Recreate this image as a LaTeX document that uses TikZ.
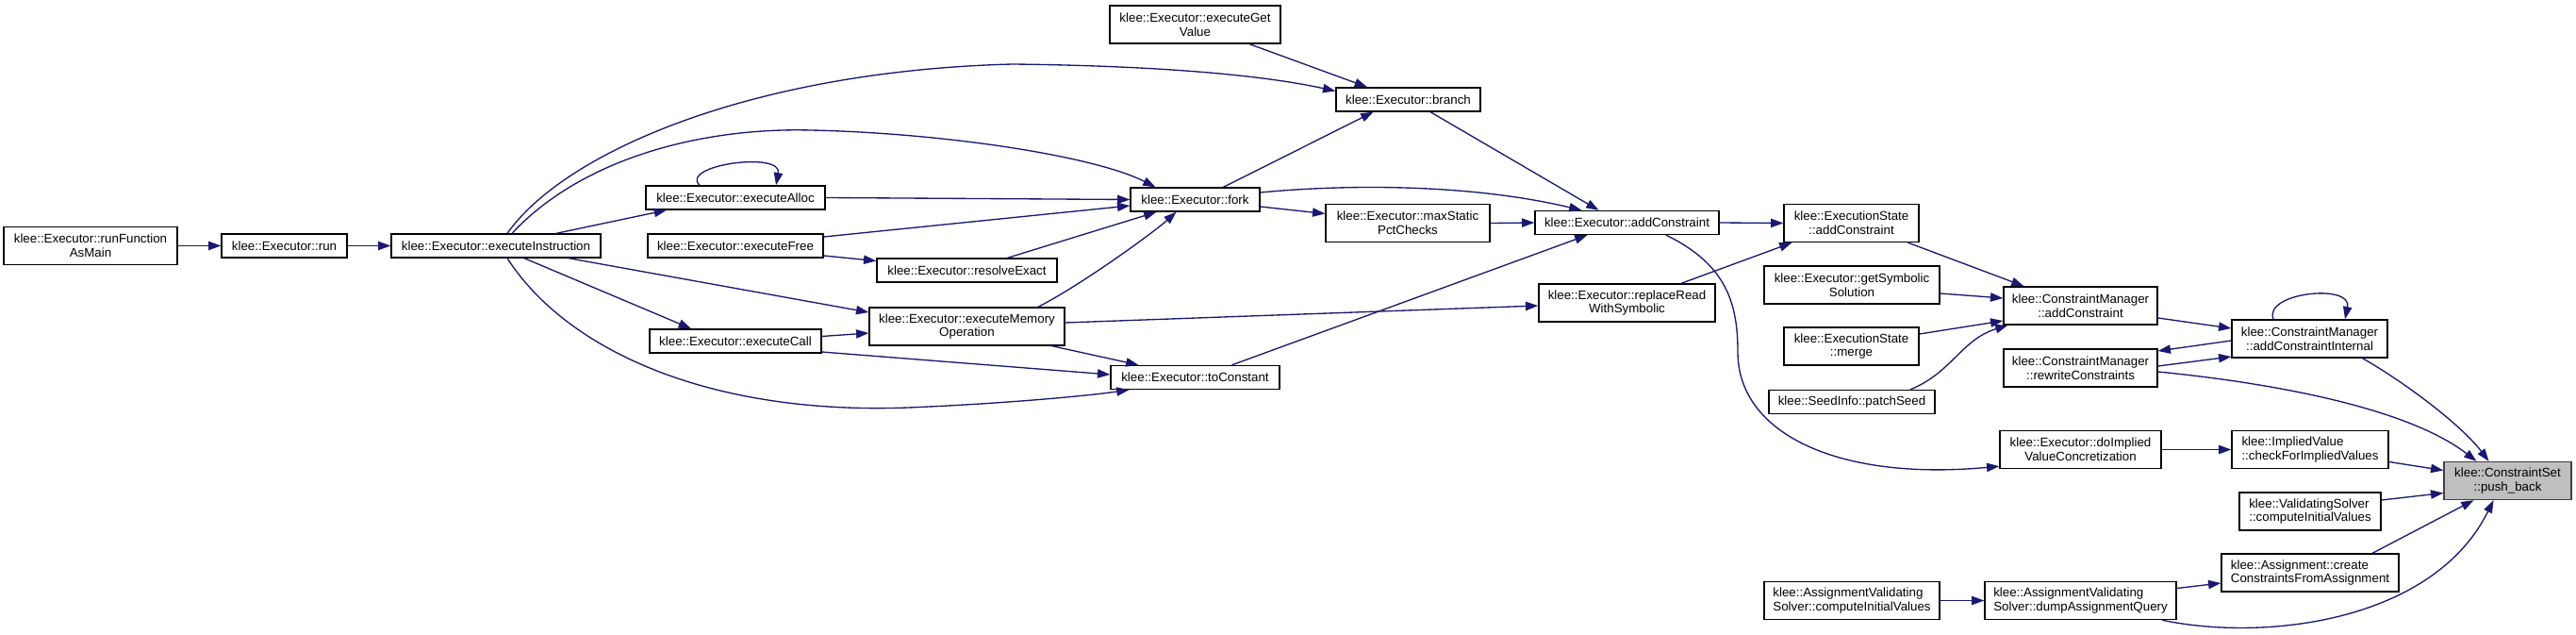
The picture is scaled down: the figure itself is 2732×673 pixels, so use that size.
\documentclass[tikz,border=0pt]{standalone}
\usepackage{fontspec}
\setmainfont{Liberation Sans}
\usepackage{tikz}
\usetikzlibrary{arrows.meta}
\usepackage{xcolor}
\definecolor{edgeblue}{HTML}{191970}
\definecolor{selfgray}{HTML}{BFBFBF}
\definecolor{selfborder}{HTML}{404040}

\tikzset{
  fn/.style={draw=black, line width=1pt, rectangle, inner sep=0pt, align=center,
    font=\fontsize{10}{11}\selectfont, minimum height=18.75pt},
  fn2/.style={fn, minimum height=30pt},
  wd/.style={minimum width=#1*0.75pt},
  calls/.style={draw=edgeblue, line width=1pt, -{Triangle[length=10pt,width=7pt]}},
}

\begin{document}
\begin{tikzpicture}[x=0.75pt, y=-0.75pt]
  \useasboundingbox (0,0) rectangle (2732,673);

  % callers, left part
  \node[fn2, wd=184] (runMain) at (96,260.5) {klee::Executor::runFunction\\AsMain};
  \node[fn, wd=133] (run) at (301.5,260.5) {klee::Executor::run};
  \node[fn, wd=222] (execInstr) at (526,260.5) {klee::Executor::executeInstruction};
  \node[fn2, wd=181] (getValue) at (1267.5,26) {klee::Executor::executeGet\\Value};
  \node[fn, wd=153] (branch) at (1493.5,105.5) {klee::Executor::branch};
  \node[fn, wd=190] (alloc) at (780,209.5) {klee::Executor::executeAlloc};
  \node[fn, wd=137] (fork) at (1267.5,211.5) {klee::Executor::fork};
  \node[fn, wd=186] (free) at (780,260.5) {klee::Executor::executeFree};
  \node[fn, wd=191] (resolve) at (1025.5,286.5) {klee::Executor::resolveExact};
  \node[fn2, wd=207] (memOp) at (1025.5,346) {klee::Executor::executeMemory\\Operation};
  \node[fn, wd=182] (call) at (780,361.5) {klee::Executor::executeCall};
  \node[fn, wd=179] (toConst) at (1267.5,400) {klee::Executor::toConstant};
  \node[fn2, wd=174] (maxStatic) at (1493,236.5) {klee::Executor::maxStatic\\PctChecks};
  \node[fn, wd=195] (addC) at (1725.5,236) {klee::Executor::addConstraint};
  \node[fn2, wd=187] (replRead) at (1725.5,321) {klee::Executor::replaceRead\\WithSymbolic};

  % callers, right part
  \node[fn2, wd=143] (esAdd) at (1963.5,236.5) {klee::ExecutionState\\::addConstraint};
  \node[fn2, wd=186] (getSym) at (1964,302) {klee::Executor::getSymbolic\\Solution};
  \node[fn2, wd=143] (merge) at (1963.5,367) {klee::ExecutionState\\::merge};
  \node[fn, wd=176] (patch) at (1964,426) {klee::SeedInfo::patchSeed};
  \node[fn2, wd=163] (cmAdd) at (2206.5,324) {klee::ConstraintManager\\::addConstraint};
  \node[fn2, wd=163] (rewrite) at (2206.5,390) {klee::ConstraintManager\\::rewriteConstraints};
  \node[fn2, wd=165] (internal) at (2449.5,359) {klee::ConstraintManager\\::addConstraintInternal};
  \node[fn2, wd=171] (implied) at (2206.5,476.5) {klee::Executor::doImplied\\ValueConcretization};
  \node[fn2, wd=166, align=left] (checkImpl) at (2450,476.5) {klee::ImpliedValue\\::checkForImpliedValues};
  \node[fn2, wd=135, fill=selfgray, draw=selfborder] (pushBack) at (2659.5,509.5) {klee::ConstraintSet\\::push\_back};
  \node[fn2, wd=150, align=left] (valSolver) at (2450,542) {klee::ValidatingSolver\\::computeInitialValues};
  \node[fn2, wd=188, align=left] (create) at (2450,607) {klee::Assignment::create\\ConstraintsFromAssignment};
  \node[fn2, wd=186, align=left] (avsInit) at (1964,636.5) {klee::AssignmentValidating\\Solver::computeInitialValues};
  \node[fn2, wd=203, align=left] (dump) at (2206.5,636.5) {klee::AssignmentValidating\\Solver::dumpAssignmentQuery};

  % run chain
  \draw[calls] (runMain) -- (run);
  \draw[calls] (run) -- (execInstr);

  % from executeInstruction
  \draw[calls] ([shift={(12,0)}]execInstr.north) .. controls (600,160) and (800,75) .. (1074,68)
    .. controls (1250,70) and (1350,82) .. ([shift={(0,-9)}]branch.west);
  \draw[calls] ([shift={(17,0)}]execInstr.north) .. controls (620,165) and (750,135) .. (860,138)
    .. controls (1000,141) and (1160,165) .. ([shift={(-42,0)}]fork.north);
  \draw[calls] ([shift={(64,0)}]execInstr.north) -- ([shift={(-73,0)}]alloc.south);
  \draw[calls] ([shift={(77,0)}]execInstr.south) -- ([shift={(0,-15)}]memOp.west);
  \draw[calls] ([shift={(30,0)}]execInstr.south) -- ([shift={(-47,0)}]call.north);
  \draw[calls] ([shift={(12,0)}]execInstr.south) .. controls (600,370) and (750,440) .. (963,432)
    .. controls (1060,428) and (1150,420) .. ([shift={(-70,0)}]toConst.south);

  % into fork
  \draw[calls] ([shift={(-38,0)}]alloc.north) .. controls (720,175) and (830,160) .. ([shift={(43,0)}]alloc.north);
  \draw[calls] (alloc.east) -- (fork.west);
  \draw[calls] ([shift={(0,-9.5)}]free.east) -- ([shift={(0,6.5)}]fork.west);
  \draw[calls] ([shift={(0,10.5)}]free.east) -- ([shift={(0,-10)}]resolve.west);
  \draw[calls] ([shift={(43,0)}]resolve.north) -- ([shift={(-41,0)}]fork.south);
  \draw[calls] ([shift={(75.5,0)}]memOp.north) .. controls (1150,300) and (1225,245) .. ([shift={(-20,0)}]fork.south);

  % executeCall, executeMemoryOperation, toConstant
  \draw[calls] ([shift={(0,-5)}]call.east) -- ([shift={(0,7)}]memOp.west);
  \draw[calls] ([shift={(0,11.5)}]call.east) -- ([shift={(0,-3)}]toConst.west);
  \draw[calls] ([shift={(90,0)}]memOp.south) -- ([shift={(-60,0)}]toConst.north);
  \draw[calls] ([shift={(0,-4)}]memOp.east) -- ([shift={(0,3)}]replRead.west);
  \draw[calls] ([shift={(39,0)}]toConst.north) -- ([shift={(-42,0)}]addC.south);

  % fork, branch, addConstraint
  \draw[calls] ([shift={(30,0)}]fork.north) -- ([shift={(-37,0)}]branch.south);
  \draw[calls] ([shift={(0,7.5)}]fork.east) -- ([shift={(0,-10)}]maxStatic.west);
  \draw[calls] ([shift={(0,-7.5)}]fork.east) .. controls (1430,195) and (1560,195) .. ([shift={(-48,0)}]addC.north);
  \draw[calls] ([shift={(57.5,0)}]getValue.south) -- ([shift={(-43.5,0)}]branch.north);
  \draw[calls] ([shift={(23.5,0)}]branch.south) -- ([shift={(-30,0)}]addC.north);
  \draw[calls] (maxStatic.east) -- (addC.west);
  \draw[calls] (addC.east) -- (esAdd.west);
  \draw[calls] ([shift={(57.5,0)}]replRead.north) -- ([shift={(-63,0)}]esAdd.south);
  \draw[calls] ([shift={(41.5,0)}]addC.south) .. controls (1830,280) and (1843,320) .. (1843,373)
    .. controls (1843,460) and (1950,510) .. ([shift={(0,-3)}]implied.south west);

  % constraint manager
  \draw[calls] ([shift={(60,0)}]esAdd.south) -- ([shift={(-60,0)}]cmAdd.north);
  \draw[calls] ([shift={(0,9)}]getSym.east) -- ([shift={(0,-8)}]cmAdd.west);
  \draw[calls] ([shift={(0,-13)}]merge.east) -- ([shift={(0,16)}]cmAdd.west);
  \draw[calls] ([shift={(62,0)}]patch.north) .. controls (2070,395) and (2080,360) .. ([shift={(-77,0)}]cmAdd.south);
  \draw[calls] ([shift={(0,13)}]cmAdd.east) -- ([shift={(0,-11)}]internal.west);
  \draw[calls] ([shift={(-38.5,0)}]internal.north) .. controls (2400,310) and (2495,300) .. ([shift={(37.5,0)}]internal.north);
  \draw[calls] ([shift={(0,2)}]internal.west) -- ([shift={(0,-18)}]rewrite.east);
  \draw[calls] ([shift={(0,-2)}]rewrite.east) -- ([shift={(0,19)}]internal.west);

  % into push_back
  \draw[calls] ([shift={(0,4)}]rewrite.east) .. controls (2400,405) and (2550,430) .. ([shift={(-33,0)}]pushBack.north);
  \draw[calls] ([shift={(56,0)}]internal.south) .. controls (2550,405) and (2610,450) .. ([shift={(-20,0)}]pushBack.north);
  \draw[calls] (implied.east) -- (checkImpl.west);
  \draw[calls] ([shift={(0,13)}]checkImpl.east) -- ([shift={(0,-11)}]pushBack.west);
  \draw[calls] ([shift={(0,-12)}]valSolver.east) -- ([shift={(0,13)}]pushBack.west);
  \draw[calls] ([shift={(66,0)}]create.north) -- ([shift={(-36,0)}]pushBack.south);
  \draw[calls] ([shift={(86.5,0)}]dump.south) .. controls (2400,680) and (2580,660) .. ([shift={(-15,0)}]pushBack.south);
  \draw[calls] ([shift={(0,-13)}]dump.east) -- ([shift={(0,11)}]create.west);
  \draw[calls] (avsInit.east) -- (dump.west);
\end{tikzpicture}
\end{document}
